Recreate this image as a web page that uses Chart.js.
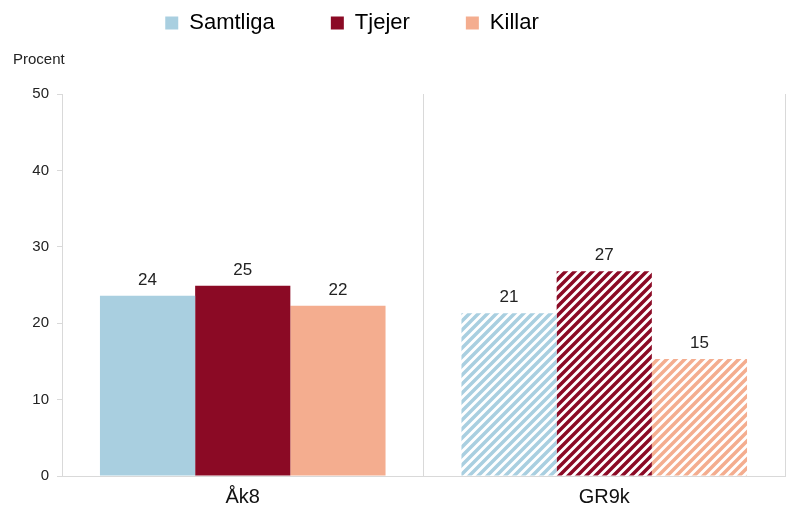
<!DOCTYPE html>
<html>
<head>
<meta charset="utf-8">
<script src="https://cdn.jsdelivr.net/npm/chart.js@4"></script>
<style>
  html, body { margin: 0; padding: 0; background: #fff; }
  #wrap { width: 787px; height: 519px; }
</style>
</head>
<body>
<div id="wrap"><canvas id="myChart"></canvas></div>
<script>
var categories = ["Åk8", "GR9k"];
var samtliga = [23.6, 21.3];
var tjejer = [24.9, 26.8];
var killar = [22.3, 15.3];
var yTicks = [0, 10, 20, 30, 40, 50];

var blue = "#A9CFE0";
var maroon = "#8B0A25";
var peach = "#F4AD8F";

// diagonal hatch used for the GR9k bars
function hatch(color) {
  var p = 9;
  var c = document.createElement("canvas");
  c.width = p;
  c.height = p;
  var g = c.getContext("2d");
  g.strokeStyle = color;
  g.lineWidth = 3.5;
  g.lineCap = "square";
  g.beginPath();
  for (var k = -1; k <= 1; k++) {
    g.moveTo(k * p - 2, p + 2);
    g.lineTo(k * p + p + 2, -2);
  }
  g.stroke();
  return g.createPattern(c, "repeat");
}

var ctx = document.getElementById("myChart").getContext("2d");

var baseFont = "'Liberation Sans', Arial, sans-serif";

// value labels above the bars + "Procent" text
var extras = {
  id: "extras",
  afterDatasetsDraw: function (chart) {
    var c = chart.ctx;
    c.save();
    c.fillStyle = "#222";
    c.font = "17px " + baseFont;
    c.textAlign = "center";
    c.textBaseline = "bottom";
    chart.data.datasets.forEach(function (ds, i) {
      chart.getDatasetMeta(i).data.forEach(function (bar, j) {
        c.fillText(Math.round(ds.data[j]), bar.x, bar.y - 7);
      });
    });
    c.font = "15px " + baseFont;
    c.textAlign = "left";
    c.textBaseline = "middle";
    c.fillText("Procent", 13, 60);
    c.restore();
  },
};

var data = {
  labels: categories,
  datasets: [
    {
      label: "Samtliga",
      data: samtliga,
      backgroundColor: [blue, hatch(blue)],
    },
    {
      label: "Tjejer",
      data: tjejer,
      backgroundColor: [maroon, hatch(maroon)],
    },
    {
      label: "Killar",
      data: killar,
      backgroundColor: [peach, hatch(peach)],
    },
  ],
};

var legendColors = [blue, maroon, peach];

var options = {
  responsive: true,
  maintainAspectRatio: false,
  animation: false,
  layout: { padding: { top: 6, right: 2, left: 0, bottom: 0 } },
  datasets: {
    bar: { categoryPercentage: 0.79, barPercentage: 1.0 },
  },
  plugins: {
    tooltip: { enabled: false },
    legend: {
      display: true,
      position: "top",
      labels: {
        boxWidth: 13,
        boxHeight: 13,
        padding: 56,
        color: "#111",
        font: { size: 22, family: baseFont },
        generateLabels: function (chart) {
          return chart.data.datasets.map(function (ds, i) {
            return {
              text: ds.label,
              fillStyle: legendColors[i],
              strokeStyle: legendColors[i],
              lineWidth: 0,
              datasetIndex: i,
            };
          });
        },
      },
    },
  },
  scales: {
    x: {
      grid: {
        display: true,
        offset: true,
        drawTicks: false,
        color: "#d9d9d9",
      },
      border: { color: "#d9d9d9" },
      ticks: {
        color: "#111",
        padding: 9,
        font: { size: 20, family: baseFont },
      },
      afterFit: function (scale) {
        scale.height = 43;
      },
    },
    y: {
      min: 0,
      max: 50,
      afterBuildTicks: function (scale) {
        scale.ticks = yTicks.map(function (v) { return { value: v }; });
      },
      grid: {
        drawOnChartArea: false,
        drawTicks: true,
        tickLength: 5,
        color: "#d9d9d9",
      },
      border: { color: "#d9d9d9" },
      ticks: {
        color: "#222",
        padding: 8,
        font: { size: 15, family: baseFont },
      },
      afterFit: function (scale) {
        scale.width = 62;
      },
    },
  },
};

// fixed legend height; move the legend row up and a bit left of centre
var legendSpacing = {
  id: "legendSpacing",
  beforeInit: function (chart) {
    var orig = chart.legend.fit;
    chart.legend.fit = function () {
      orig.bind(chart.legend)();
      this.height = 88;
    };
  },
  afterLayout: function (chart) {
    chart.legend.right -= 81;
    chart.legend.top -= 50;
  },
};

var myChart = new Chart(ctx, {
  type: "bar",
  data: data,
  options: options,
  plugins: [extras, legendSpacing],
});
</script>
</body>
</html>
